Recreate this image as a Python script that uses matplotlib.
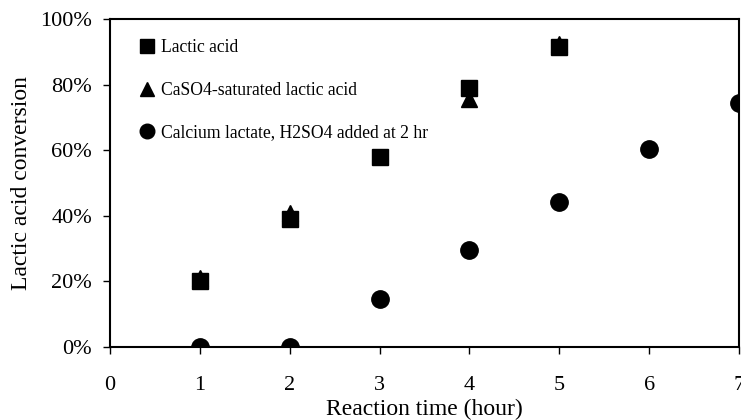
import matplotlib
matplotlib.use("Agg")
import matplotlib.pyplot as plt
from matplotlib.ticker import PercentFormatter

plt.rcParams['font.family'] = ['Liberation Serif', 'DejaVu Serif']

# Reaction time (hour) and conversion (%)
t_lactic = [1, 2, 3, 4, 5]
conv_lactic = [20, 39, 58, 79, 91.5]

t_caso4 = [1, 2, 4, 5]
conv_caso4 = [21, 41, 75.5, 92.5]

t_calcium = [1, 2, 3, 4, 5, 6, 7]
conv_calcium = [0, 0, 14.6, 29.6, 44.2, 60.4, 74.4]

fig = plt.figure(figsize=(7.41, 4.2), dpi=100)
ax = fig.add_axes([0.1484, 0.1738, 0.8489, 0.781])

sq, = ax.plot(t_lactic, conv_lactic, 's', color='black', markersize=11, zorder=4, label='Lactic acid')
tri, = ax.plot(t_caso4, conv_caso4, '^', color='black', markersize=11, zorder=3, label='CaSO4-saturated lactic acid')
circ, = ax.plot(t_calcium, conv_calcium, 'o', color='black', markersize=12.5, zorder=3, label='Calcium lactate, H2SO4 added at 2 hr')

ax.set_xlim(0, 7)
ax.set_ylim(0, 100)
ax.set_xticks(range(0, 8))
ax.set_yticks(range(0, 101, 20))
ax.yaxis.set_major_formatter(PercentFormatter(decimals=0))
ax.tick_params(axis='both', direction='out', length=5, width=1, labelsize=16, pad=8)
ax.tick_params(axis='x', pad=16)
for s in ax.spines.values():
    s.set_linewidth(1.5)

ax.set_xlabel('Reaction time (hour)', fontsize=17, labelpad=3)
ax.set_ylabel('Lactic acid conversion', fontsize=17, labelpad=6)

leg = ax.legend(handles=[sq, tri, circ], loc='upper left', bbox_to_anchor=(0.04, 0.96),
                frameon=False, fontsize=12.7, handlelength=0.6, handletextpad=0.45,
                labelspacing=1.45, borderaxespad=0)
for h in leg.legend_handles:
    h.set_markersize(10.5)

plt.savefig('out.png', dpi=100)
